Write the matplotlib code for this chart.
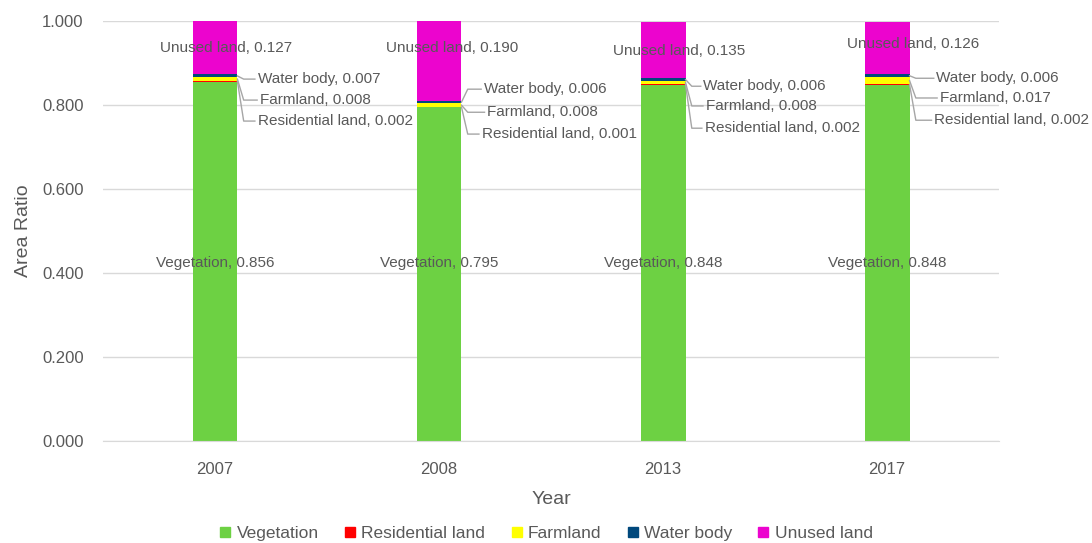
import numpy as np
import matplotlib
matplotlib.use('Agg')
import matplotlib.pyplot as plt
from matplotlib.ticker import FormatStrFormatter
from matplotlib.lines import Line2D

plt.rcParams['font.family'] = ['Liberation Sans', 'DejaVu Sans']

years = ['2007', '2008', '2013', '2017']
classes = ['Vegetation', 'Residential land', 'Farmland', 'Water body', 'Unused land']
vegetation = [0.856, 0.795, 0.848, 0.848]
residential = [0.002, 0.001, 0.002, 0.002]
farmland = [0.008, 0.008, 0.008, 0.017]
water = [0.007, 0.006, 0.006, 0.006]
unused = [0.127, 0.190, 0.135, 0.126]

colors = ['#6DD143', '#FF0000', '#FFFF00', '#00487C', '#EC04CE']
GRAY = '#595959'

# label placement for the thin segments: (x offset from bar centre, y of text)
small_pos = {
    'Water body':       [(0.19, 0.862), (0.20, 0.838), (0.18, 0.845), (0.22, 0.864)],
    'Farmland':         [(0.20, 0.812), (0.215, 0.783), (0.19, 0.798), (0.235, 0.817)],
    'Residential land': [(0.19, 0.762), (0.19, 0.731), (0.185, 0.745), (0.21, 0.764)],
}
unused_pos = [(0.05, 0.936), (0.06, 0.936), (0.07, 0.930), (0.115, 0.945)]
veg_label_y = 0.424

fig = plt.figure(figsize=(10.92, 5.43), dpi=100)
ax = fig.add_axes([0.0943, 0.188, 0.8207, 0.773])

x = np.arange(len(years))
w = 0.2
series = [vegetation, residential, farmland, water, unused]
bottom = np.zeros(len(years))
bottoms = []
for vals, c in zip(series, colors):
    bottoms.append(bottom.copy())
    ax.bar(x, vals, w, bottom=bottom, color=c, zorder=2)
    bottom += np.array(vals)

for i in range(len(years)):
    ax.text(x[i], veg_label_y, 'Vegetation, %.3f' % vegetation[i],
            ha='center', va='center', fontsize=11, color=GRAY, zorder=3)
    ux, uy = unused_pos[i]
    ax.text(x[i] + ux, uy, 'Unused land, %.3f' % unused[i],
            ha='center', va='center', fontsize=11, color=GRAY, zorder=3)
    for k, name in [(3, 'Water body'), (2, 'Farmland'), (1, 'Residential land')]:
        v = series[k][i]
        yseg = bottoms[k][i] + v / 2
        dx, ty = small_pos[name][i]
        edge = x[i] + w / 2
        tx = x[i] + dx
        ax.plot([edge, edge + 0.028, tx - 0.012], [yseg, ty, ty],
                color='#A6A6A6', lw=1, zorder=3, clip_on=False)
        ax.text(tx, ty, '%s, %.3f' % (name, v), ha='left', va='center',
                fontsize=11, color=GRAY, zorder=3)

ax.set_xlim(-0.5, 3.5)
ax.set_ylim(0, 1.0)
ax.set_yticks(np.arange(0, 1.01, 0.2))
ax.yaxis.set_major_formatter(FormatStrFormatter('%.3f'))
ax.set_xticks(x)
ax.set_xticklabels(years)
ax.tick_params(length=0, labelsize=12, labelcolor=GRAY)
ax.tick_params(axis='x', pad=15)
ax.tick_params(axis='y', pad=14)
ax.grid(axis='y', color='#D9D9D9', lw=1, zorder=0)
for s in ['top', 'right', 'left']:
    ax.spines[s].set_visible(False)
ax.spines['bottom'].set_color('#D9D9D9')
ax.set_ylabel('Area Ratio', fontsize=14, color=GRAY, labelpad=7)
ax.set_xlabel('Year', fontsize=14, color=GRAY, labelpad=10)

handles = [Line2D([], [], marker='s', ls='', markersize=7.5, color=c) for c in colors]
fig.legend(handles, classes, loc='lower center', bbox_to_anchor=(0.5, -0.025),
           ncol=5, frameon=False, fontsize=12.5, labelcolor=GRAY,
           handlelength=0.7, handletextpad=0.3, columnspacing=1.45)

fig.savefig('out.png', dpi=100)
